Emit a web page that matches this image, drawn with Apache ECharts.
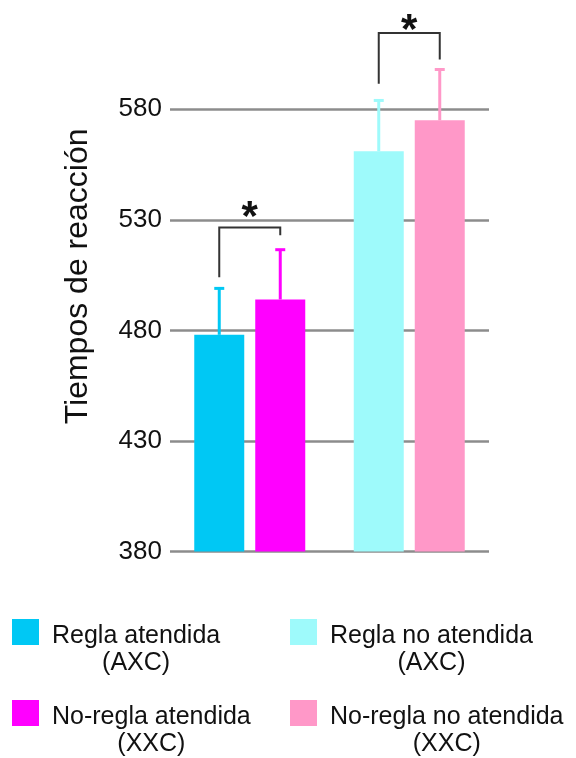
<!DOCTYPE html>
<html>
<head>
<meta charset="utf-8">
<script src="https://cdn.jsdelivr.net/npm/echarts@6/dist/echarts.min.js"></script>
<style>
html,body{margin:0;padding:0;background:#fff;}
#chart{width:576px;height:758px;}
</style>
</head>
<body>
<div id="chart"></div>
<script>
// ---- data ----
const categories = ['Atendida', 'No atendida'];
const seriesNames = ['Regla atendida', 'No-regla atendida', 'Regla no atendida', 'No-regla no atendida'];
const seriesSub = ['(AXC)', '(XXC)', '(AXC)', '(XXC)'];
const reglaAtendida = [478, '-'];
const noReglaAtendida = [494, '-'];
const reglaNoAtendida = ['-', 561];
const noReglaNoAtendida = ['-', 575];
// upper end of error bars, in series order
const errorTop = [499, 516.5, 584, 598];
// significance brackets per category: left leg end, top, right leg end, asterisk level
const bracketLeftEnd = [504, 591.5];
const bracketTop = [526.5, 614.5];
const bracketRightEnd = [523, 602.5];
const asteriskLevel = [534.5, 619.5];
const yTicks = [380, 430, 480, 530, 580];

const colors = ['#00C8F4', '#FF00FF', '#9EFAFB', '#FF98C8'];
const BAR_W = 50, GAP = 11;
const OFF = (BAR_W + GAP) / 2;

const barData = [reglaAtendida, noReglaAtendida, reglaNoAtendida, noReglaNoAtendida];
const stacks = ['a', 'b', 'a', 'b'];
const slots = [0, 1, 0, 1];

const errData = [];
barData.forEach((arr, i) => {
  arr.forEach((v, ci) => {
    if (v !== '-') errData.push([ci, v, errorTop[i], slots[i], i]);
  });
});
const brData = categories.map((c, ci) => [ci, bracketLeftEnd[ci], bracketTop[ci], bracketRightEnd[ci], asteriskLevel[ci]]);

const chart = echarts.init(document.getElementById('chart'), null, {renderer: 'canvas'});

const font = 'Liberation Sans, Arial, Helvetica, sans-serif';

const barSeries = barData.map((d, i) => ({
  name: seriesNames[i],
  type: 'bar',
  stack: stacks[i],
  data: d,
  barWidth: BAR_W,
  barGap: (GAP / BAR_W * 100) + '%',
  itemStyle: {color: colors[i]},
  silent: true,
  z: 2
}));

const legendPos = [
  {left: 12, top: 619},
  {left: 12, top: 700},
  {left: 290, top: 619},
  {left: 290, top: 700}
];
const legends = seriesNames.map((n, i) => ({
  data: [n],
  left: legendPos[i].left,
  top: legendPos[i].top,
  orient: 'vertical',
  padding: 0,
  itemWidth: 27,
  itemHeight: 26,
  selectedMode: false,
  icon: 'rect',
  formatter: name => '{c|' + name + '}\n{c|' + seriesSub[seriesNames.indexOf(name)] + '}',
  textStyle: {
    color: '#111',
    fontFamily: font,
    fontSize: 25,
    padding: [36, 0, 0, 8],
    rich: {c: {align: 'center', fontSize: 25, lineHeight: 27, fontFamily: font, color: '#111'}}
  }
}));

const option = {
  animation: false,
  backgroundColor: '#fff',
  grid: {left: 170, right: 87, top: 109.3, bottom: 758 - 551.5, containLabel: false},
  legend: legends,
  xAxis: {
    type: 'category',
    data: categories,
    axisLine: {show: false},
    axisTick: {show: false},
    axisLabel: {show: false},
    splitLine: {show: false}
  },
  yAxis: {
    type: 'value',
    min: yTicks[0],
    max: yTicks[yTicks.length - 1],
    interval: 50,
    name: 'Tiempos de reacción',
    nameLocation: 'middle',
    nameGap: 76,
    nameRotate: 90,
    nameTextStyle: {fontSize: 32, fontFamily: font, color: '#111', padding: [0, 0, 0, 108]},
    axisLine: {show: false},
    axisTick: {show: false},
    axisLabel: {fontSize: 26, fontFamily: font, color: '#111', margin: 8},
    splitLine: {show: true, lineStyle: {color: '#8c8c8c', width: 2.5}}
  },
  series: barSeries.concat([
    {
      type: 'custom',
      name: 'err',
      silent: true,
      z: 3,
      data: errData,
      encode: {x: 0, y: [1, 2]},
      renderItem: function (params, api) {
        const ci = api.value(0);
        const base = api.coord([ci, api.value(1)]);
        const top = api.coord([ci, api.value(2)]);
        const x = base[0] + (api.value(3) === 0 ? -OFF : OFF);
        const col = colors[api.value(4)];
        return {
          type: 'group',
          children: [
            {type: 'line', shape: {x1: x, y1: base[1], x2: x, y2: top[1]}, style: {stroke: col, lineWidth: 3}},
            {type: 'line', shape: {x1: x - 5, y1: top[1], x2: x + 5, y2: top[1]}, style: {stroke: col, lineWidth: 3}}
          ]
        };
      }
    },
    {
      type: 'custom',
      name: 'sig',
      silent: true,
      z: 4,
      data: brData,
      encode: {x: 0, y: [1, 2, 3]},
      renderItem: function (params, api) {
        const ci = api.value(0);
        const pL = api.coord([ci, api.value(1)]);
        const pT = api.coord([ci, api.value(2)]);
        const pR = api.coord([ci, api.value(3)]);
        const pS = api.coord([ci, api.value(4)]);
        const xL = pL[0] - OFF, xR = pL[0] + OFF;
        return {
          type: 'group',
          children: [
            {type: 'polyline', shape: {points: [[xL, pL[1]], [xL, pT[1]], [xR, pT[1]], [xR, pR[1]]]},
              style: {stroke: '#333', lineWidth: 2, fill: null}},
            {type: 'text', x: (xL + xR) / 2, y: pS[1] + 9,
              style: {text: '*', fontSize: 42, fontWeight: 'bold', fontFamily: font, fill: '#111',
                align: 'center', verticalAlign: 'middle'}}
          ]
        };
      }
    }
  ])
};
chart.setOption(option);
</script>
</body>
</html>
